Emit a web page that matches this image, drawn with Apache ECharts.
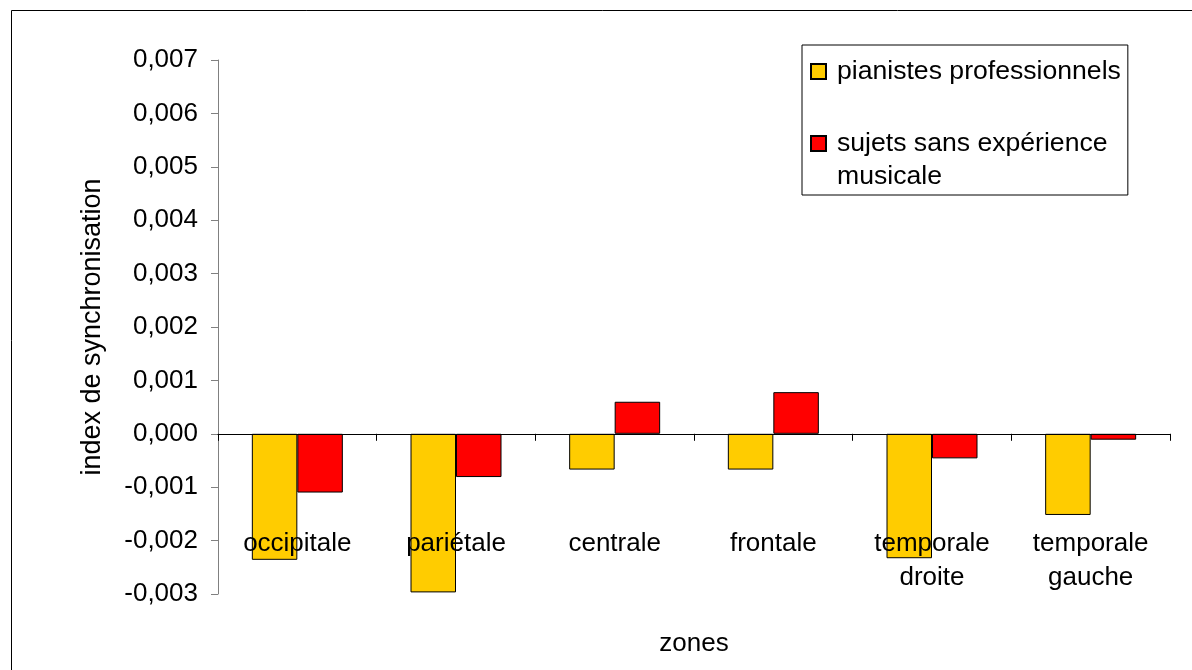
<!DOCTYPE html>
<html>
<head>
<meta charset="utf-8">
<script src="https://cdn.jsdelivr.net/npm/echarts@6/dist/echarts.min.js"></script>
<style>
html,body{margin:0;padding:0;background:#fff;}
#chart{width:1192px;height:670px;}
</style>
</head>
<body>
<div id="chart"></div>
<script>
const categories = ['occipitale', 'pariétale', 'centrale', 'frontale', 'temporale\ndroite', 'temporale\ngauche'];
const pianistes = [-0.00236, -0.00297, -0.00067, -0.00067, -0.00233, -0.00152];
const sansExperience = [-0.00110, -0.00081, 0.00060, 0.00078, -0.00046, -0.00011];
const seriesNames = ['pianistes professionnels', 'sujets sans expérience musicale'];
const yTicks = { min: -0.003, max: 0.007, interval: 0.001 };

const FONT = '"Liberation Sans", Arial, sans-serif';
const FS = 26;
const chart = echarts.init(document.getElementById('chart'), null, { renderer: 'canvas' });
chart.setOption({
  backgroundColor: '#fff',
  animation: false,
  graphic: [{
    type: 'rect', left: 9, top: 8, z: -1,
    shape: { width: 1200, height: 700 },
    style: { fill: 'none', stroke: '#000', lineWidth: 1 }
  }],
  grid: { left: 218, top: 60, right: 22, bottom: 76, outerBoundsMode: 'none', containLabel: false },
  legend: {
    orient: 'vertical', left: 802, top: 45,
    padding: [10, 7, 2, 8], itemGap: 6,
    itemWidth: 15, itemHeight: 15,
    borderColor: '#000', borderWidth: 1,
    icon: 'rect',
    textStyle: { fontFamily: FONT, fontSize: 26.6, color: '#000', lineHeight: 33, padding: [0, 0, 0, 6] },
    data: [seriesNames[0], seriesNames[1]],
    formatter: n => n === seriesNames[1] ? '\nsujets sans expérience\nmusicale' : n
  },
  xAxis: {
    type: 'category', data: categories, z: 10,
    name: 'zones', nameLocation: 'middle', nameGap: 37,
    nameTextStyle: { fontFamily: FONT, fontSize: FS, color: '#000' },
    axisLine: { onZero: true, lineStyle: { color: '#000', width: 1 } },
    axisTick: { show: true, length: 7, lineStyle: { color: '#000' } },
    axisLabel: { fontFamily: FONT, fontSize: FS, color: '#000', margin: -67, lineHeight: 34 },
    splitLine: { show: false }
  },
  yAxis: {
    type: 'value', min: yTicks.min, max: yTicks.max, interval: yTicks.interval,
    name: 'index de synchronisation', nameLocation: 'middle', nameRotate: 90, nameGap: 112,
    nameTextStyle: { fontFamily: FONT, fontSize: 27, color: '#000' },
    axisLine: { show: true, onZero: false, lineStyle: { color: '#808080', width: 1 } },
    axisTick: { show: true, length: 7, lineStyle: { color: '#808080' } },
    axisLabel: { fontFamily: FONT, fontSize: FS, color: '#000', margin: 20,
      formatter: v => (Math.abs(v) < 1e-9 ? 0 : v).toFixed(3).replace('.', ',') },
    splitLine: { show: false }
  },
  series: [
    { name: seriesNames[0], type: 'bar', data: pianistes, barWidth: 45.5, barGap: '0%',
      itemStyle: { color: '#FFCC00', borderColor: '#000', borderWidth: 1 } },
    { name: seriesNames[1], type: 'bar', data: sansExperience, barWidth: 45.5, barGap: '0%',
      itemStyle: { color: '#FF0000', borderColor: '#000', borderWidth: 1 } }
  ]
});
</script>
</body>
</html>
